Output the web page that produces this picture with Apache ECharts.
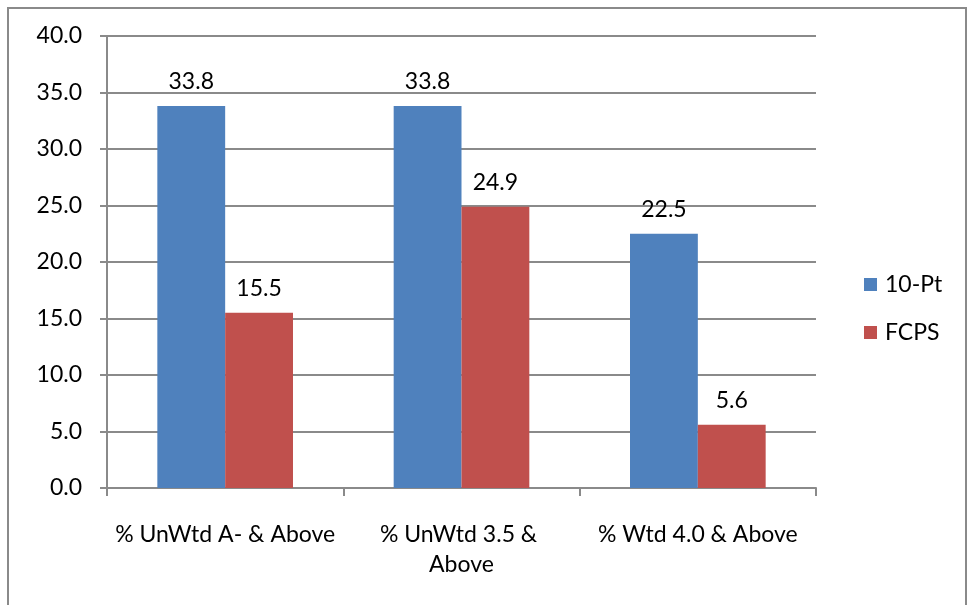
<!DOCTYPE html>
<html>
<head>
<meta charset="utf-8">
<script src="https://cdn.jsdelivr.net/npm/echarts@6/dist/echarts.min.js"></script>
<style>
  html, body { margin: 0; padding: 0; background: #fff; }
  #chart { width: 969px; height: 605px; }
</style>
</head>
<body>
<div id="chart"></div>
<script>
// Share of students at or above each GPA threshold, by grading scale
const categories = ['% UnWtd A- & Above', '% UnWtd 3.5 & Above', '% Wtd 4.0 & Above'];
const tenPoint = [33.8, 33.8, 22.5];
const fcps = [15.5, 24.9, 5.6];
const seriesNames = ['10-Pt', 'FCPS'];

const FONT = 'Lato';
const FS = 23;
const GRAY = '#8a8a8a';

const chart = echarts.init(document.getElementById('chart'), null, { renderer: 'canvas' });

const labelStyle = {
  show: true,
  position: 'top',
  distance: 13,
  fontFamily: FONT,
  fontSize: FS,
  color: '#000',
  formatter: p => p.value.toFixed(1)
};

chart.setOption({
  animation: false,
  backgroundColor: '#fff',
  graphic: [{
    type: 'rect',
    shape: { x: 8, y: 8, width: 958, height: 640 },
    style: { fill: 'none', stroke: GRAY, lineWidth: 2 },
    silent: true
  }],
  grid: { left: 107, top: 36, right: 153, bottom: 117, containLabel: false },
  legend: {
    orient: 'vertical',
    left: 859,
    top: 268,
    itemWidth: 13,
    itemHeight: 13,
    itemGap: 25,
    icon: 'rect',
    textStyle: { fontFamily: FONT, fontSize: FS, color: '#000', padding: [0, 0, 0, 3] },
    data: seriesNames
  },
  xAxis: {
    type: 'category',
    data: categories,
    axisLine: { lineStyle: { color: GRAY, width: 2 } },
    axisTick: { show: true, length: 8, lineStyle: { color: GRAY, width: 2 } },
    axisLabel: {
      fontFamily: FONT,
      fontSize: FS,
      color: '#000',
      margin: 32,
      lineHeight: 30,
      width: 224,
      overflow: 'break',
      interval: 0
    }
  },
  yAxis: {
    type: 'value',
    min: 0,
    max: 40,
    interval: 5,
    axisLine: { show: true, lineStyle: { color: GRAY, width: 2 } },
    axisTick: { show: true, length: 7, lineStyle: { color: GRAY, width: 2 } },
    splitLine: { show: true, lineStyle: { color: GRAY, width: 2 } },
    axisLabel: {
      fontFamily: FONT,
      fontSize: FS,
      color: '#000',
      margin: 25,
      formatter: v => v.toFixed(1)
    }
  },
  series: [
    {
      name: seriesNames[0],
      type: 'bar',
      data: tenPoint,
      barGap: '0%',
      barCategoryGap: '42.6%',
      itemStyle: { color: '#4F81BD' },
      label: labelStyle
    },
    {
      name: seriesNames[1],
      type: 'bar',
      data: fcps,
      barGap: '0%',
      barCategoryGap: '42.6%',
      itemStyle: { color: '#C0504D' },
      label: labelStyle
    }
  ]
});
</script>
</body>
</html>
